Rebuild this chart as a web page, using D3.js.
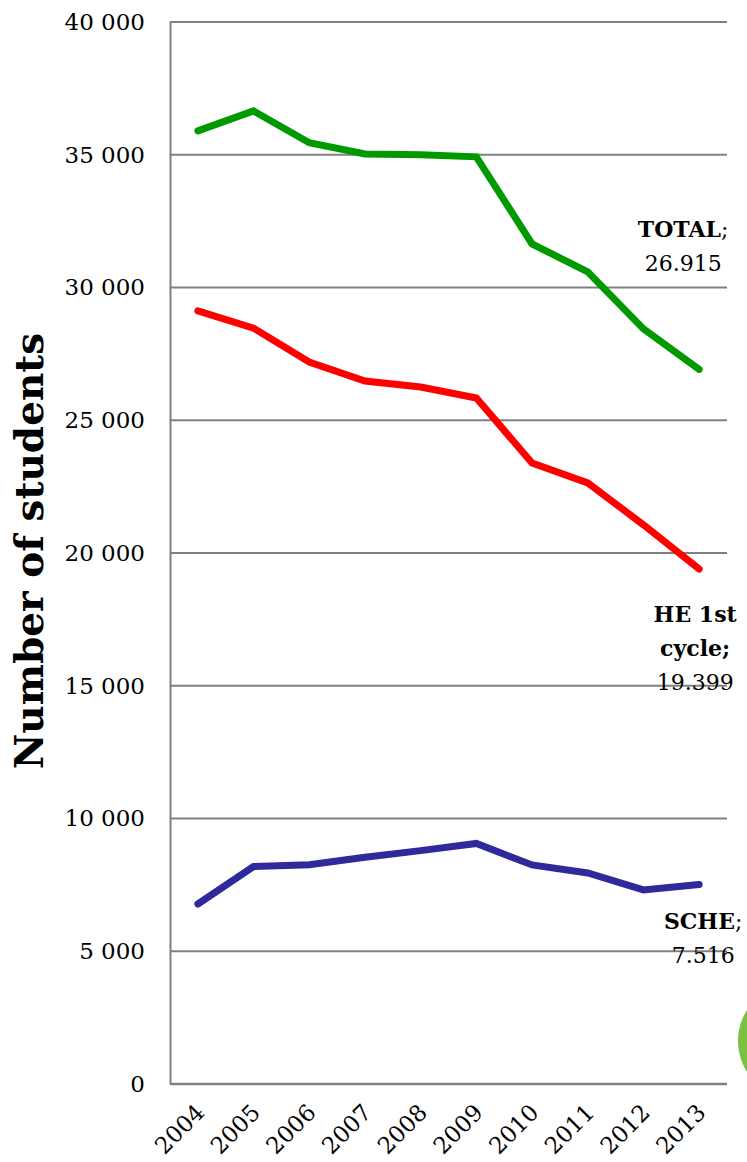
<!DOCTYPE html>
<html>
<head>
<meta charset="utf-8">
<script src="https://cdn.jsdelivr.net/npm/d3@7"></script>
<style>
  html, body { margin: 0; padding: 0; background: #fff; overflow: hidden; }
  svg { display: block; }
  text { font-family: "DejaVu Serif", "Liberation Serif", serif; fill: #000; }
</style>
</head>
<body>
<svg id="chart" width="747" height="1162"></svg>
<script>
const years = ["2004","2005","2006","2007","2008","2009","2010","2011","2012","2013"];
const totalValues = [35900, 36650, 35450, 35030, 35000, 34920, 31640, 30590, 28440, 26915];
const he1Values   = [29120, 28470, 27190, 26480, 26250, 25840, 23390, 22640, 21060, 19399];
const scheValues  = [6780, 8190, 8260, 8540, 8790, 9060, 8250, 7950, 7310, 7516];
const yTicks = [0, 5000, 10000, 15000, 20000, 25000, 30000, 35000, 40000];

const series = [
  { name: "TOTAL", values: totalValues, color: "#009900", label: [["TOTAL", ";"], ["26.915"]] },
  { name: "HE 1st cycle", values: he1Values, color: "#ff0000", label: [["HE 1st"], ["cycle;"], ["19.399"]] },
  { name: "SCHE", values: scheValues, color: "#2e2a9b", label: [["SCHE", ";"], ["7.516"]] }
];

const svg = d3.select("#chart");
const margin = { left: 170, top: 22 };

const x = d3.scaleBand().domain(years).range([margin.left, 727]);
const y = d3.scaleLinear().domain([0, 40000]).range([1084, margin.top]);

const fmt = v => d3.format(",")(v).replace(/,/g, " ");

// gridlines
svg.append("g")
  .selectAll("line")
  .data(yTicks.filter(d => d > 0))
  .join("line")
  .attr("x1", margin.left).attr("x2", 727)
  .attr("y1", d => y(d)).attr("y2", d => y(d))
  .attr("stroke", "#808080").attr("stroke-width", 2);

// y axis
const yAxis = svg.append("g")
  .attr("transform", `translate(${margin.left},0)`)
  .call(d3.axisLeft(y).tickValues(yTicks).tickFormat(fmt).tickSize(0).tickPadding(25));
yAxis.select(".domain").attr("stroke", "#808080").attr("stroke-width", 2);
yAxis.selectAll("text").style("font-family", "DejaVu Serif").style("font-size", "23px").attr("fill", "#000");

// x axis
const xAxis = svg.append("g")
  .attr("transform", `translate(0,${y(0)})`)
  .call(d3.axisBottom(x).tickSize(0).tickPadding(0));
xAxis.select(".domain").attr("stroke", "#808080").attr("stroke-width", 2.5).attr("d", `M${margin.left},0H727`);
xAxis.selectAll(".tick text")
  .style("font-family", "DejaVu Serif").style("font-size", "23px").attr("fill", "#000")
  .attr("text-anchor", "end")
  .attr("dy", null).attr("y", 0)
  .attr("transform", "translate(8,30) rotate(-45)");

// lines
const line = d3.line().x((d, i) => x(years[i]) + x.bandwidth() / 2).y(d => y(d));
svg.append("g").selectAll("path")
  .data(series)
  .join("path")
  .attr("d", d => line(d.values))
  .attr("fill", "none")
  .attr("stroke", d => d.color)
  .attr("stroke-width", 7)
  .attr("stroke-linejoin", "miter")
  .attr("stroke-linecap", "round");

// labels
const labelOffsets = { "TOTAL": [-16, -132], "HE 1st cycle": [-4, 53], "SCHE": [4, 45] };
series.forEach(s => {
  const lx = x(years[years.length - 1]) + x.bandwidth() / 2;
  const ly = y(s.values[s.values.length - 1]);
  const [dx, dy] = labelOffsets[s.name];
  const t = svg.append("text")
    .attr("x", lx + dx).attr("y", ly + dy)
    .attr("text-anchor", "middle")
    .style("font-size", "22px");
  s.label.forEach((ln, i) => {
    const ts = t.append("tspan").attr("x", lx + dx).attr("dy", i === 0 ? 0 : 34);
    const isNum = /^[0-9.]+$/.test(ln[0]);
    ts.append("tspan").text(ln[0]).style("font-weight", isNum ? "normal" : "bold");
    if (ln[1]) ts.append("tspan").text(ln[1]).style("font-weight", "normal");
  });
});

// y-axis title
svg.append("text")
  .attr("transform", `translate(43,551) rotate(-90)`)
  .attr("text-anchor", "middle")
  .style("font-size", "39px").style("font-weight", "bold")
  .text("Number of students");

// decorative circle at bottom-right
svg.append("circle").attr("cx", 796).attr("cy", 1041).attr("r", 58).attr("fill", "#7cc142");
</script>
</body>
</html>
